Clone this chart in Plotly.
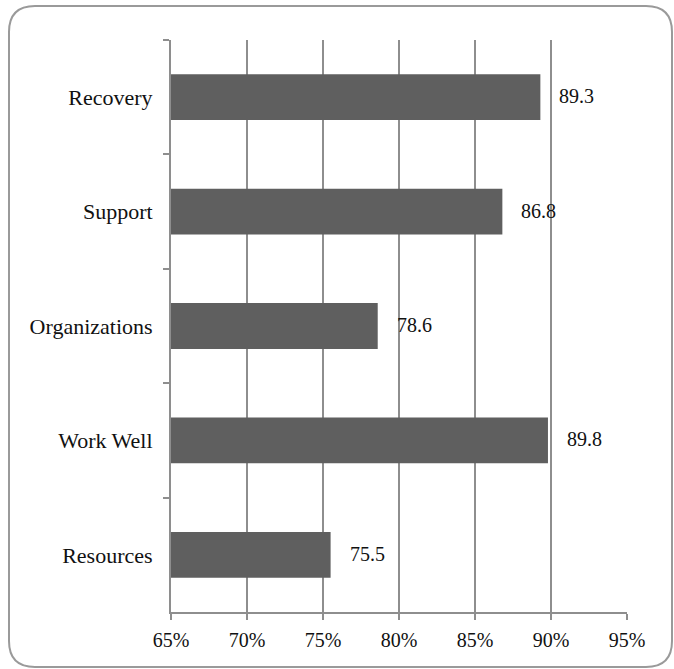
import plotly.graph_objects as go

# Survey scores (percent agreement) per area
categories = ["Recovery", "Support", "Organizations", "Work Well", "Resources"]
scores = [89.3, 86.8, 78.6, 89.8, 75.5]
tick_values = [65, 70, 75, 80, 85, 90, 95]
tick_labels = ["65%", "70%", "75%", "80%", "85%", "90%", "95%"]

W, H = 674, 669
L, R, T, B = 171, 47, 40, 57
plot_w = W - L - R
plot_h = H - T - B

FONT = "Liberation Serif, Times New Roman, serif"
GRID = "#8e8e8e"
BAR = "#5f5f5f"
TEXT = "#111111"

fig = go.Figure()
fig.add_trace(go.Bar(
    x=scores,
    y=categories,
    orientation="h",
    marker=dict(color=BAR, line=dict(width=0)),
    width=0.4,
    hoverinfo="skip",
))

# value labels just to the right of each bar
for cat, val in zip(categories, scores):
    fig.add_annotation(
        x=val, y=cat, xref="x", yref="y",
        text=f"{val:.1f}", showarrow=False,
        xanchor="left", yanchor="middle", xshift=17, yshift=1,
        font=dict(family=FONT, size=20, color=TEXT),
    )

# rounded frame around the whole chart, given in pixels and mapped to paper units
def px(xp):
    return (xp - L) / plot_w

def py(yp):
    return (H - B - yp) / plot_h

x0, x1, y0, y1, r = 9, 672, 6, 667, 26
path = (
    f"M {px(x0 + r)} {py(y0)} L {px(x1 - r)} {py(y0)} "
    f"Q {px(x1)} {py(y0)} {px(x1)} {py(y0 + r)} "
    f"L {px(x1)} {py(y1 - r)} "
    f"Q {px(x1)} {py(y1)} {px(x1 - r)} {py(y1)} "
    f"L {px(x0 + r)} {py(y1)} "
    f"Q {px(x0)} {py(y1)} {px(x0)} {py(y1 - r)} "
    f"L {px(x0)} {py(y0 + r)} "
    f"Q {px(x0)} {py(y0)} {px(x0 + r)} {py(y0)} Z"
)
fig.add_shape(type="path", xref="paper", yref="paper", path=path,
              line=dict(color="#9a9a9a", width=2), layer="below")

fig.update_layout(
    width=W, height=H,
    margin=dict(l=L, r=R, t=T, b=B, pad=0),
    paper_bgcolor="white", plot_bgcolor="white",
    showlegend=False,
    bargap=0.6,
    font=dict(family=FONT, size=20, color=TEXT),
    xaxis=dict(
        range=[65, 95],
        tickmode="array", tickvals=tick_values, ticktext=tick_labels,
        showgrid=True, gridcolor=GRID, gridwidth=2,
        showline=True, linecolor=GRID, linewidth=2,
        ticks="outside", ticklen=6, tickwidth=2, tickcolor=GRID,
        zeroline=False,
        tickfont=dict(family=FONT, size=20, color=TEXT),
        ticklabelstandoff=3,
        fixedrange=True,
    ),
    yaxis=dict(
        categoryorder="array", categoryarray=categories,
        autorange="reversed",
        showgrid=False,
        showline=True, linecolor=GRID, linewidth=2,
        ticks="outside", ticklen=6, tickwidth=2, tickcolor=GRID,
        tickson="boundaries",
        tickfont=dict(family=FONT, size=22, color=TEXT),
        ticklabelstandoff=12,
        fixedrange=True,
    ),
)

fig.write_html("out.html")
